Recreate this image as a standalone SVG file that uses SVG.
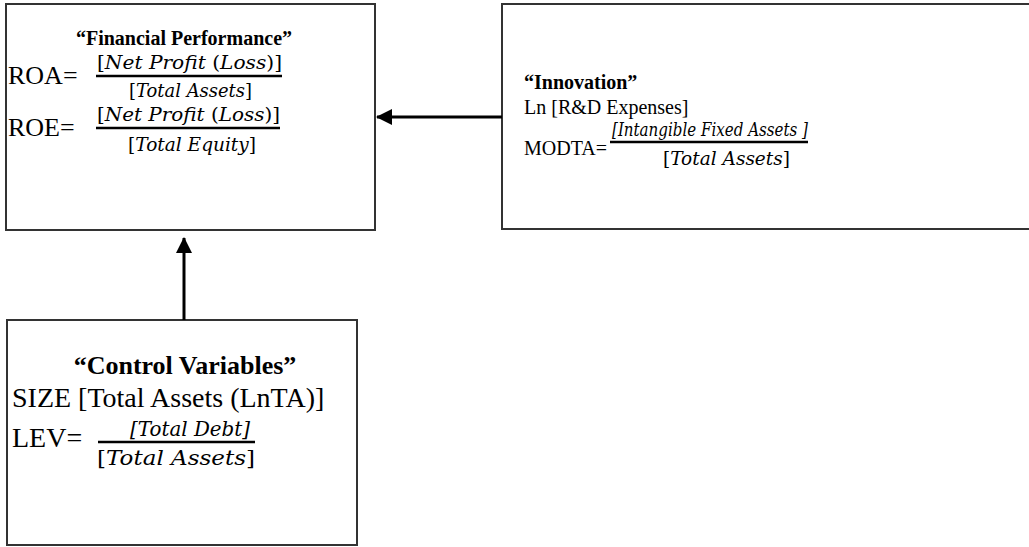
<svg xmlns="http://www.w3.org/2000/svg" width="1029" height="547" viewBox="0 0 1029 547">
  <style>
    .box { fill: #ffffff; stroke: #333333; stroke-width: 2; }
    .t { font-family: "Liberation Serif", "Times New Roman", serif; fill: #000; }
    .s20 { font-size: 20px; }
    .s26 { font-size: 26px; }
    .s28 { font-size: 28px; }
    .b { font-weight: bold; }
    .m { font-family: "DejaVu Serif", "Liberation Serif", serif; font-style: italic; fill: #000; }
    .m18 { font-size: 18px; }
    .m21 { font-size: 21px; }
    .u { font-style: normal; }
    .bar { stroke: #000; stroke-width: 2.5; }
    .conn { stroke: #000; stroke-width: 3; fill: none; }
  </style>
  <defs>
    <marker id="arrow" viewBox="0 0 16 16" refX="15" refY="8" markerWidth="16" markerHeight="16" markerUnits="userSpaceOnUse" orient="auto">
      <path d="M0,0 L16,8 L0,16 Z" fill="#000"/>
    </marker>
  </defs>

  <g id="node-financial-performance">
    <rect class="box" x="6" y="4" width="369" height="226"/>
    <text class="t s20 b" x="184" y="45" text-anchor="middle">“Financial Performance”</text>
    <text class="t s26" x="8" y="84">ROA=</text>
    <text class="m m18" x="97" y="69" textLength="185" lengthAdjust="spacingAndGlyphs"><tspan class="u">[</tspan>Net Profit <tspan class="u">(</tspan>Loss<tspan class="u">)]</tspan></text>
    <line class="bar" x1="96" y1="76" x2="282" y2="76"/>
    <text class="m m18" x="129" y="97" textLength="123" lengthAdjust="spacingAndGlyphs"><tspan class="u">[</tspan>Total Assets<tspan class="u">]</tspan></text>
    <text class="t s26" x="8" y="136">ROE=</text>
    <text class="m m18" x="97" y="121" textLength="183" lengthAdjust="spacingAndGlyphs"><tspan class="u">[</tspan>Net Profit <tspan class="u">(</tspan>Loss<tspan class="u">)]</tspan></text>
    <line class="bar" x1="96" y1="128" x2="280" y2="128"/>
    <text class="m m18" x="128" y="151" textLength="128" lengthAdjust="spacingAndGlyphs"><tspan class="u">[</tspan>Total Equity<tspan class="u">]</tspan></text>
  </g>

  <g id="node-innovation">
    <rect class="box" x="502" y="4" width="540" height="225"/>
    <text class="t s20 b" x="524" y="89">“Innovation”</text>
    <text class="t s20" x="524" y="114">Ln [R&amp;D Expenses]</text>
    <text class="t s20" x="524" y="155">MODTA=</text>
    <text class="m m18" x="612" y="136" textLength="196" lengthAdjust="spacingAndGlyphs">[Intangible Fixed Assets ]</text>
    <line class="bar" x1="610" y1="142" x2="808" y2="142"/>
    <text class="m m18" x="663" y="165" textLength="127" lengthAdjust="spacingAndGlyphs"><tspan class="u">[</tspan>Total Assets<tspan class="u">]</tspan></text>
  </g>

  <g id="node-control-variables">
    <rect class="box" x="7" y="320" width="350" height="225"/>
    <text class="t s26 b" x="185" y="374" text-anchor="middle">“Control Variables”</text>
    <text class="t s28" x="12" y="407">SIZE [Total Assets (LnTA)]</text>
    <text class="t s28" x="12" y="447">LEV=</text>
    <text class="m m21" x="130" y="436" textLength="120" lengthAdjust="spacingAndGlyphs">[Total Debt]</text>
    <line class="bar" x1="98" y1="442" x2="255" y2="442"/>
    <text class="m m21" x="97" y="465" textLength="158" lengthAdjust="spacingAndGlyphs"><tspan class="u">[</tspan>Total Assets<tspan class="u">]</tspan></text>
  </g>

  <g id="connectors">
    <line class="conn" x1="502" y1="117" x2="377" y2="117" marker-end="url(#arrow)"/>
    <line class="conn" x1="184" y1="320" x2="184" y2="238" marker-end="url(#arrow)"/>
  </g>
</svg>
